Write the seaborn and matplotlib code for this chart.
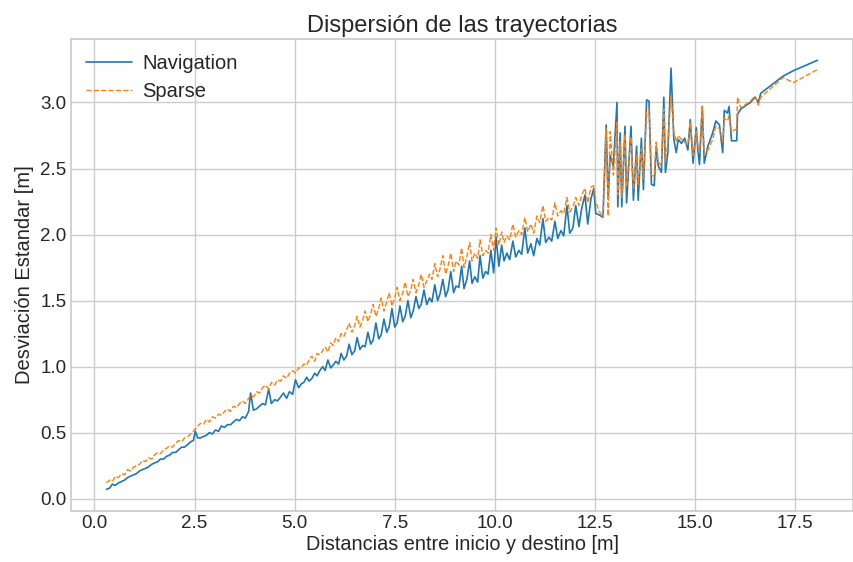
import matplotlib
matplotlib.use("Agg")
import matplotlib.pyplot as plt
import seaborn as sns
import pandas as pd

# Distance between start and goal [m]
distancias = [
    0.30, 0.38, 0.45, 0.52, 0.60, 0.68, 0.75, 0.83, 0.90, 0.98, 1.05, 1.13, 1.20, 1.28, 1.35, 1.43,
    1.50, 1.58, 1.65, 1.73, 1.80, 1.88, 1.95, 2.03, 2.10, 2.18, 2.25, 2.33, 2.40, 2.47, 2.52, 2.58,
    2.65, 2.72, 2.80, 2.87, 2.95, 3.02, 3.10, 3.17, 3.25, 3.32, 3.40, 3.47, 3.55, 3.62, 3.70, 3.77,
    3.85, 3.90, 3.97, 4.05, 4.12, 4.20, 4.27, 4.35, 4.42, 4.50, 4.57, 4.65, 4.72, 4.80, 4.87, 4.95,
    5.02, 5.10,
    5.17, 5.23, 5.30, 5.36, 5.43, 5.50, 5.56, 5.63, 5.70, 5.76, 5.83, 5.90, 5.96,
    6.03, 6.10, 6.16, 6.23, 6.30, 6.36, 6.43, 6.50, 6.56, 6.63, 6.70, 6.76, 6.83, 6.90, 6.96,
    7.03, 7.10, 7.16, 7.23, 7.30, 7.36, 7.43, 7.50, 7.56, 7.63, 7.70, 7.76, 7.83, 7.90, 7.96,
    8.03, 8.10, 8.16, 8.23, 8.30,
    8.37, 8.43, 8.50, 8.57, 8.63, 8.70, 8.77, 8.83, 8.90, 8.97, 9.03, 9.10, 9.17, 9.23, 9.30,
    9.37, 9.43, 9.50, 9.57, 9.63, 9.70, 9.77, 9.83, 9.90, 9.97, 10.03, 10.10,
    10.17, 10.23, 10.30, 10.37, 10.45, 10.52, 10.60, 10.67, 10.75, 10.82, 10.90, 10.97,
    11.05, 11.12, 11.20, 11.27, 11.35, 11.42, 11.50, 11.57, 11.65, 11.72, 11.80, 11.87,
    11.95, 12.02, 12.10, 12.17, 12.25, 12.32, 12.40, 12.47, 12.52, 12.60, 12.70,
    12.78, 12.83, 12.88, 12.96, 13.05, 13.07, 13.13, 13.17, 13.25, 13.29, 13.40, 13.46,
    13.54, 13.58, 13.66, 13.71, 13.79, 13.85, 13.91, 13.98, 14.03, 14.08, 14.16, 14.22,
    14.26, 14.32, 14.40, 14.47, 14.53, 14.58,
    14.66, 14.74, 14.82, 14.88, 14.95, 15.03, 15.07, 15.11, 15.18, 15.23, 15.32, 15.44,
    15.52, 15.61, 15.69, 15.73, 15.81, 15.85, 15.91, 16.04, 16.06, 16.14,
    16.38, 16.50, 16.58, 16.64, 17.20, 17.45, 18.06,
]

# Standard deviation of the trajectories, Navigation planner [m]
navigation = [
    0.07, 0.08, 0.11, 0.10, 0.12, 0.13, 0.14, 0.16, 0.17, 0.18, 0.19, 0.21, 0.22, 0.23, 0.24, 0.26,
    0.27, 0.28, 0.30, 0.30, 0.32, 0.33, 0.35, 0.35, 0.37, 0.39, 0.39, 0.41, 0.43, 0.44, 0.51, 0.46,
    0.46, 0.47, 0.48, 0.50, 0.49, 0.52, 0.51, 0.55, 0.54, 0.56, 0.56, 0.58, 0.60, 0.59, 0.62, 0.61,
    0.66, 0.80, 0.67, 0.68, 0.70, 0.72, 0.71, 0.83, 0.72, 0.75, 0.74, 0.77, 0.80, 0.76, 0.81, 0.79,
    0.90, 0.84,
    0.87, 0.88, 0.92, 0.89, 0.91, 0.95, 0.93, 0.97, 1.00, 0.97, 1.05, 0.99, 1.01,
    1.04, 1.02, 1.10, 1.05, 1.08, 1.17, 1.09, 1.12, 1.22, 1.13, 1.16, 1.15, 1.26, 1.17, 1.20,
    1.33, 1.21, 1.24, 1.36, 1.26, 1.30, 1.44, 1.30, 1.33, 1.46, 1.34, 1.38, 1.50, 1.37, 1.42,
    1.53, 1.44, 1.47, 1.58, 1.47,
    1.52, 1.49, 1.62, 1.50, 1.55, 1.66, 1.53, 1.58, 1.72, 1.56, 1.61, 1.60, 1.76, 1.59, 1.66,
    1.80, 1.63, 1.68, 1.64, 1.84, 1.67, 1.72, 1.70, 1.88, 1.71, 1.98, 1.76,
    1.92, 1.80, 1.86, 1.81, 1.95, 1.83, 1.88, 1.85, 2.05, 1.86, 1.93, 1.84,
    1.97, 1.92, 2.12, 1.94, 1.98, 1.95, 2.10, 1.97, 2.03, 1.99, 2.22, 2.01,
    2.05, 2.22, 2.06, 2.20, 2.30, 2.08, 2.27, 2.35, 2.16, 2.15, 2.13,
    2.83, 2.27, 2.60, 2.52, 3.00, 2.21, 2.77, 2.21, 2.82, 2.24, 2.82, 2.26,
    2.67, 2.26, 2.73, 2.34, 3.02, 3.01, 2.38, 2.37, 2.67, 2.52, 2.47, 3.04,
    2.47, 2.62, 3.26, 2.72, 2.62, 2.72,
    2.69, 2.73, 2.64, 2.87, 2.54, 2.81, 2.64, 2.53, 2.97, 2.54, 2.67, 2.77,
    2.86, 2.83, 2.62, 2.94, 2.92, 2.97, 2.71, 2.71, 2.91, 2.95,
    3.00, 3.04, 3.00, 3.07, 3.20, 3.24, 3.32,
]

# Standard deviation of the trajectories, Sparse planner [m]
sparse = [
    0.12, 0.14, 0.13, 0.17, 0.16, 0.19, 0.18, 0.22, 0.21, 0.24, 0.25, 0.26, 0.29, 0.28, 0.31, 0.30,
    0.33, 0.35, 0.34, 0.37, 0.38, 0.40, 0.39, 0.42, 0.44, 0.43, 0.46, 0.47, 0.49, 0.51, 0.53, 0.55,
    0.57, 0.56, 0.60, 0.58, 0.62, 0.61, 0.64, 0.63, 0.66, 0.68, 0.66, 0.70, 0.69, 0.72, 0.74, 0.72,
    0.76, 0.78, 0.77, 0.81, 0.80, 0.84, 0.86, 0.83, 0.88, 0.86, 0.90, 0.89, 0.93, 0.91, 0.95, 0.97,
    0.95, 0.99,
    0.99, 1.02, 1.01, 1.05, 1.08, 1.04, 1.10, 1.09, 1.12, 1.15, 1.11, 1.18, 1.16,
    1.22, 1.19, 1.25, 1.23, 1.28, 1.33, 1.26, 1.31, 1.38, 1.30, 1.35, 1.42, 1.34, 1.40, 1.47,
    1.38, 1.44, 1.52, 1.42, 1.49, 1.56, 1.46, 1.52, 1.60, 1.50, 1.56, 1.64, 1.53, 1.58, 1.66,
    1.56, 1.62, 1.70, 1.60, 1.65,
    1.70, 1.66, 1.78, 1.68, 1.74, 1.84, 1.70, 1.76, 1.86, 1.72, 1.80, 1.77, 1.90, 1.75, 1.83,
    1.94, 1.80, 1.86, 1.82, 1.96, 1.84, 1.88, 1.86, 2.00, 1.88, 2.05, 1.92,
    2.02, 1.94, 1.99, 1.96, 2.08, 1.98, 2.03, 2.00, 2.13, 2.02, 2.08, 2.01,
    2.14, 2.09, 2.22, 2.10, 2.13, 2.11, 2.24, 2.14, 2.18, 2.16, 2.28, 2.17,
    2.21, 2.28, 2.22, 2.30, 2.35, 2.24, 2.36, 2.37, 2.25, 2.18, 2.13,
    2.80, 2.14, 2.78, 2.45, 2.85, 2.30, 2.70, 2.28, 2.76, 2.36, 2.74, 2.34,
    2.60, 2.38, 2.65, 2.42, 2.93, 2.95, 2.45, 2.44, 2.70, 2.55, 2.52, 2.95,
    2.55, 2.70, 3.05, 2.78, 2.70, 2.75,
    2.72, 2.70, 2.68, 2.85, 2.60, 2.78, 2.68, 2.62, 2.97, 2.60, 2.64, 2.72,
    2.82, 2.80, 2.70, 2.88, 2.86, 2.90, 2.78, 2.80, 3.04, 2.96,
    3.01, 3.05, 2.98, 3.04, 3.19, 3.15, 3.25,
]

sns.set_theme(style="whitegrid")
plt.rcParams["font.family"] = ["Liberation Sans", "DejaVu Sans"]
plt.rcParams["axes.edgecolor"] = ".8"

df = pd.DataFrame({"dist": distancias, "nav": navigation, "sparse": sparse})

fig, ax = plt.subplots(figsize=(8.54, 5.62), dpi=100)
fig.subplots_adjust(left=0.083, right=0.999, top=0.931, bottom=0.091)

sns.lineplot(data=df, x="dist", y="nav", ax=ax, color="#1f77b4",
             linewidth=1.2, label="Navigation")
sns.lineplot(data=df, x="dist", y="sparse", ax=ax, color="#ff7f0e",
             linewidth=1.0, linestyle="--", label="Sparse")

ax.set_title("Dispersión de las trayectorias", fontsize=17, color=".15", pad=5)
ax.set_xlabel("Distancias entre inicio y destino [m]", fontsize=14.3,
              color=".15", labelpad=2)
ax.set_ylabel("Desviación Estandar [m]", fontsize=14.5, color=".15", labelpad=5)
ax.tick_params(labelsize=13.5, colors=".15", length=0, pad=3)
ax.legend(loc="upper left", frameon=False, fontsize=14.5, handlelength=2.3,
          handletextpad=0.5, labelspacing=0.45, borderaxespad=0.35)

fig.savefig("out.png", dpi=100)
